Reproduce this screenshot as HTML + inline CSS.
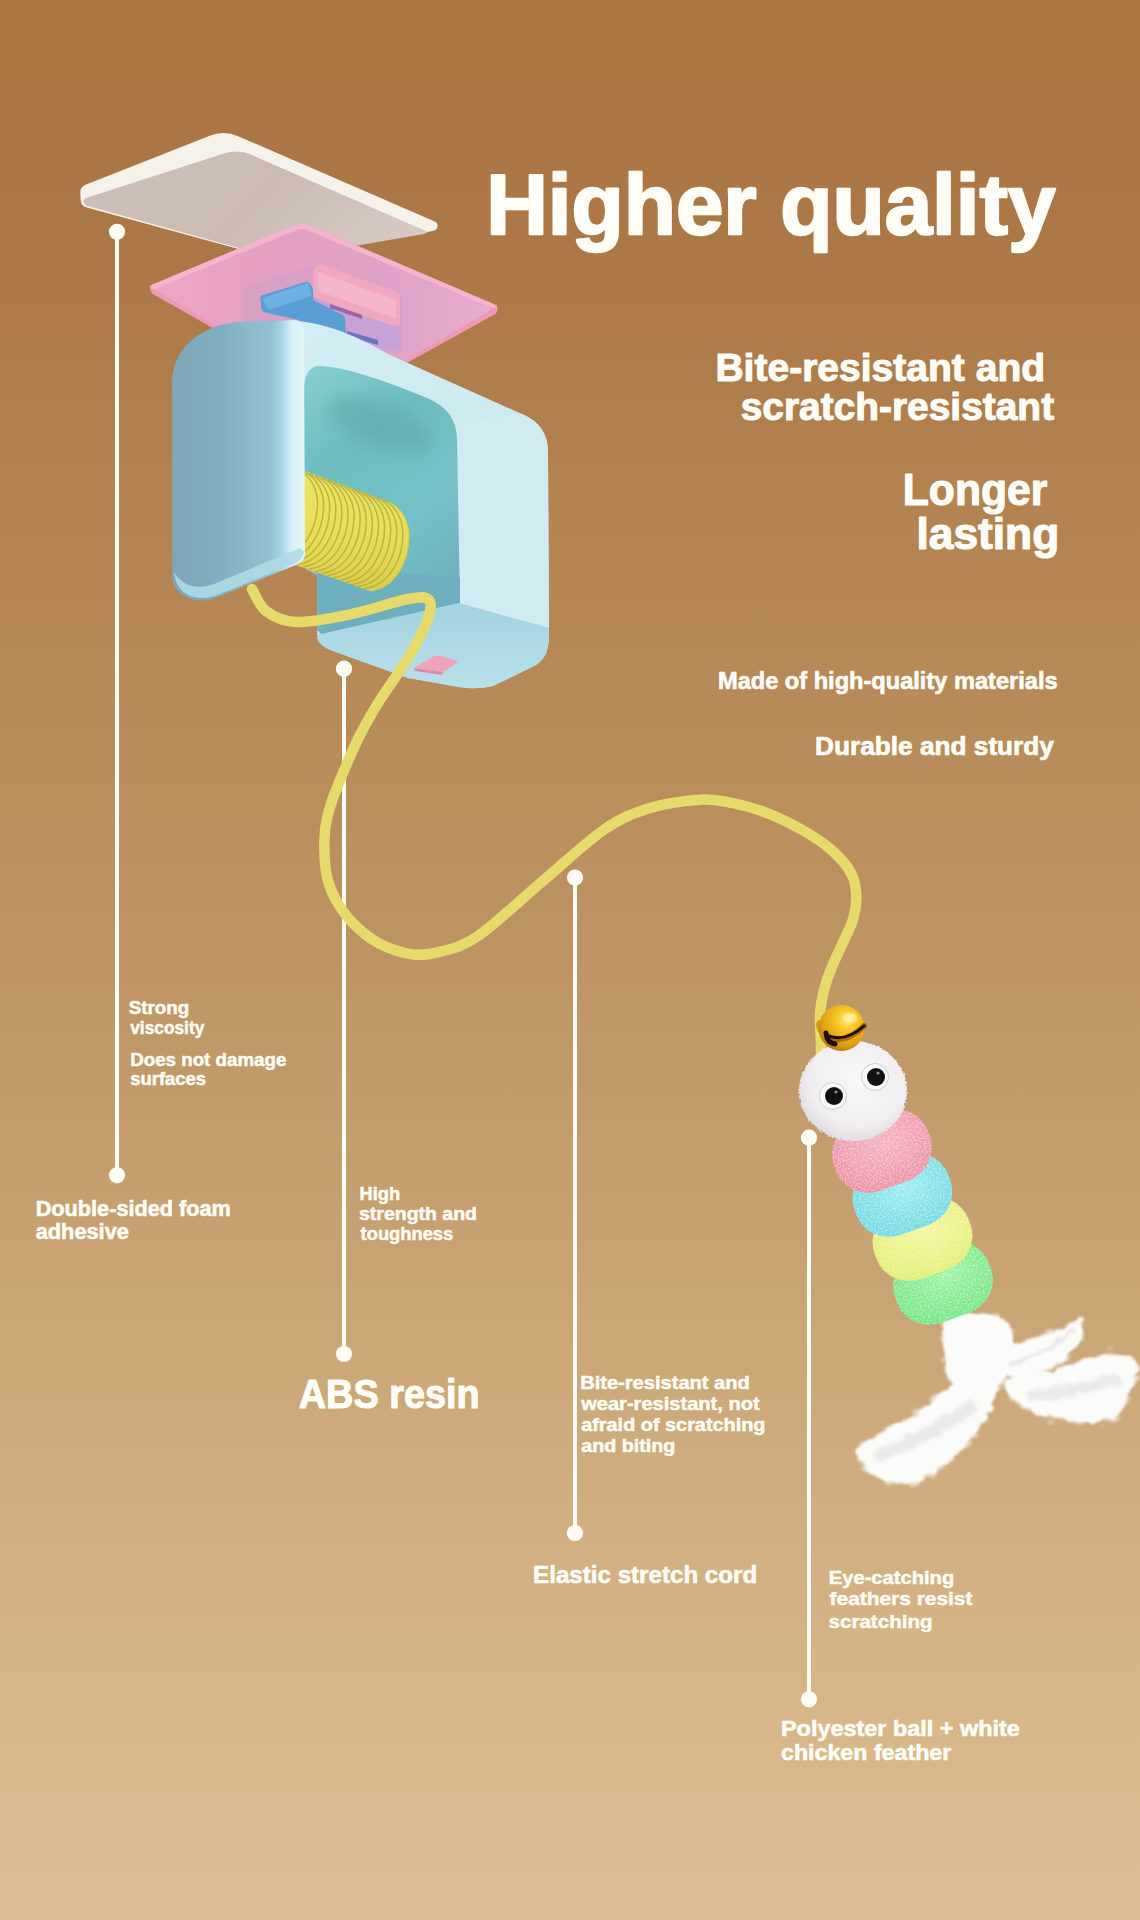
<!DOCTYPE html>
<html><head><meta charset="utf-8"><title>Higher quality</title>
<style>
html,body{margin:0;padding:0;}
body{width:1140px;height:1920px;overflow:hidden;position:relative;
background:linear-gradient(180deg,#AB7541 0px,#AC7846 270px,#B2824F 480px,#BE9464 960px,#CEAB7C 1440px,#D7B688 1710px,#DBBD93 1920px);}
svg{position:absolute;left:0;top:0;}
</style></head><body>
<svg width="1140" height="1920" viewBox="0 0 1140 1920">

<g fill="#FFFDF6" stroke="none">
<rect x="115" y="232" width="4" height="943"/><circle cx="117" cy="231.8" r="8.1"/><circle cx="117" cy="1175.3" r="8.1"/>
<rect x="342" y="669" width="4" height="685"/><circle cx="344" cy="668.7" r="8.1"/><circle cx="344" cy="1354" r="8.1"/>
<rect x="573" y="878" width="4" height="655"/><circle cx="575" cy="877.6" r="8.1"/><circle cx="575" cy="1533" r="8.1"/>
<rect x="807" y="1138" width="4" height="561"/><circle cx="809" cy="1137.7" r="8.1"/><circle cx="809" cy="1699.3" r="8.1"/>
</g>
<defs>
<linearGradient id="padFace" x1="0" y1="0" x2="1" y2="0.3">
 <stop offset="0" stop-color="#CEC0B9"/><stop offset="0.6" stop-color="#CBBBB3"/><stop offset="1" stop-color="#D5C8C1"/></linearGradient>
<linearGradient id="pinkFace" gradientUnits="userSpaceOnUse" x1="150" y1="0" x2="497" y2="0">
 <stop offset="0" stop-color="#EEA8C6"/><stop offset="0.3" stop-color="#E49FC2"/><stop offset="0.7" stop-color="#E0A2C8"/><stop offset="1" stop-color="#E6ACD0"/></linearGradient>
<linearGradient id="armFace" gradientUnits="userSpaceOnUse" x1="172" y1="0" x2="305" y2="0">
 <stop offset="0" stop-color="#7EA6B8"/><stop offset="0.35" stop-color="#80AEC0"/><stop offset="0.75" stop-color="#94C2D2"/><stop offset="0.82" stop-color="#A4D4E2"/><stop offset="0.9" stop-color="#D8F0F7"/><stop offset="1" stop-color="#E4F6FA"/></linearGradient>
<linearGradient id="boxBase" x1="0" y1="0" x2="0.3" y2="1">
 <stop offset="0" stop-color="#D4EEF4"/><stop offset="0.6" stop-color="#CBE9F0"/><stop offset="1" stop-color="#B6DDE8"/></linearGradient>
<linearGradient id="bottomFace" x1="0" y1="0" x2="0" y2="1">
 <stop offset="0" stop-color="#A2D3E0"/><stop offset="1" stop-color="#B9E0EA"/></linearGradient>
<linearGradient id="inner" x1="0" y1="0" x2="0.4" y2="1">
 <stop offset="0" stop-color="#89CFCF"/><stop offset="0.35" stop-color="#6DBDBE"/><stop offset="0.7" stop-color="#74C2C8"/><stop offset="1" stop-color="#6FB3BE"/></linearGradient>
<linearGradient id="spring" x1="0" y1="0" x2="0" y2="1">
 <stop offset="0" stop-color="#EAE366"/><stop offset="0.5" stop-color="#E8E05A"/><stop offset="1" stop-color="#D9CE4A"/></linearGradient>
<radialGradient id="bell" cx="0.62" cy="0.32" r="0.72">
 <stop offset="0" stop-color="#FFE880"/><stop offset="0.3" stop-color="#F8C828"/><stop offset="0.75" stop-color="#E0A010"/><stop offset="1" stop-color="#B87808"/></radialGradient>
<radialGradient id="head" cx="0.55" cy="0.4" r="0.65">
 <stop offset="0" stop-color="#F8F7F9"/><stop offset="0.7" stop-color="#F0EEF1"/><stop offset="1" stop-color="#DCD7DC"/></radialGradient>
<radialGradient id="segP" cx="0.55" cy="0.4" r="0.65"><stop offset="0" stop-color="#F5B2BF"/><stop offset="1" stop-color="#EC92A4"/></radialGradient>
<radialGradient id="segB" cx="0.55" cy="0.4" r="0.65"><stop offset="0" stop-color="#9CEDF0"/><stop offset="1" stop-color="#72D8E2"/></radialGradient>
<radialGradient id="segY" cx="0.55" cy="0.4" r="0.65"><stop offset="0" stop-color="#F2F89C"/><stop offset="1" stop-color="#E2EE70"/></radialGradient>
<radialGradient id="segG" cx="0.55" cy="0.4" r="0.65"><stop offset="0" stop-color="#9EF4A4"/><stop offset="1" stop-color="#74E482"/></radialGradient>
<filter id="blur2" x="-20%" y="-20%" width="140%" height="140%"><feGaussianBlur stdDeviation="1.6"/></filter>
<filter id="blur6" x="-50%" y="-50%" width="200%" height="200%"><feGaussianBlur stdDeviation="8"/></filter>
<filter id="ragged" x="-10%" y="-10%" width="120%" height="120%">
 <feTurbulence type="fractalNoise" baseFrequency="0.09" numOctaves="2" seed="3" result="n"/>
 <feDisplacementMap in="SourceGraphic" in2="n" scale="9" xChannelSelector="R" yChannelSelector="G" result="d"/>
 <feGaussianBlur in="d" stdDeviation="0.9"/>
</filter>
<filter id="speckle" x="0" y="0" width="100%" height="100%">
 <feTurbulence type="fractalNoise" baseFrequency="0.6" numOctaves="1" seed="7" result="n"/>
 <feColorMatrix in="n" type="matrix" values="0 0 0 0 1  0 0 0 0 1  0 0 0 0 1  0 0 0 -2.2 1.3" result="w"/>
 <feComposite in="w" in2="SourceGraphic" operator="in"/>
</filter>
<filter id="fuzzy" x="-10%" y="-10%" width="120%" height="120%">
 <feTurbulence type="fractalNoise" baseFrequency="0.5" numOctaves="1" seed="11" result="n"/>
 <feDisplacementMap in="SourceGraphic" in2="n" scale="3.5" xChannelSelector="R" yChannelSelector="G"/>
</filter>
<filter id="wispy" x="-15%" y="-15%" width="130%" height="130%">
 <feTurbulence type="fractalNoise" baseFrequency="0.05 0.12" numOctaves="3" seed="5" result="n"/>
 <feDisplacementMap in="SourceGraphic" in2="n" scale="22" xChannelSelector="R" yChannelSelector="G" result="d"/>
 <feGaussianBlur in="d" stdDeviation="1.5"/>
</filter>
<filter id="blur1" x="-20%" y="-20%" width="140%" height="140%"><feGaussianBlur stdDeviation="0.8"/></filter>
</defs>
<path d="M80.3,193.0 Q80.0,187.0 85.6,184.8 L209.1,135.9 Q224.0,130.0 238.7,136.4 L434.8,221.6 Q438.0,223.0 437.5,226.5 L437.5,226.5 Q437.0,230.0 433.5,230.7 L284.9,258.9 Q279.0,260.0 273.2,258.4 L86.8,207.6 Q81.0,206.0 80.7,200.0 Z" fill="#F5F2EC"/>
<path d="M83.5,202.0 Q83.0,199.0 85.9,198.1 L224.7,153.3 Q238.0,149.0 250.8,154.6 L424.5,230.6 Q430.0,233.0 424.1,234.0 L284.9,258.0 Q279.0,259.0 273.2,257.4 L86.9,205.8 Q84.0,205.0 83.5,202.0 Z" fill="url(#padFace)"/>
<path d="M150.0,289.5 Q149.0,286.0 152.4,284.6 L294.6,225.1 Q302.0,222.0 309.4,225.2 L494.8,304.6 Q498.0,306.0 497.5,309.5 L497.4,310.0 Q497.0,313.0 494.4,314.5 L342.6,398.5 Q340.0,400.0 337.4,398.5 L153.6,294.5 Q151.0,293.0 150.2,290.1 Z" fill="#EC9AB6"/>
<path d="M151.0,288.0 Q149.0,286.0 151.6,284.9 L294.6,225.1 Q302.0,222.0 309.4,225.2 L495.7,305.0 Q498.0,306.0 496.0,307.5 L496.0,307.5 Q494.0,309.0 491.7,308.0 L307.5,230.3 Q302.0,228.0 296.5,230.3 L155.6,288.9 Q153.0,290.0 151.0,288.0 Z" fill="#F4B4CE"/>
<path d="M157.5,291.0 Q154.0,289.0 157.7,287.5 L296.5,230.3 Q302.0,228.0 307.5,230.3 L489.3,307.4 Q493.0,309.0 489.5,311.0 L343.5,396.0 Q340.0,398.0 336.5,396.0 Z" fill="url(#pinkFace)"/>
<path d="M243,288 L313,266 L402,296 L402,352 L320,350 L244,326 Z" fill="#D9A0C6"/>
<path d="M313.0,271.0 Q313.0,268.0 315.6,266.5 L317.4,265.5 Q320.0,264.0 322.8,265.0 L397.2,292.0 Q400.0,293.0 400.0,296.0 L400.0,323.0 Q400.0,326.0 397.0,326.0 L396.0,326.0 Q393.0,326.0 390.2,325.0 L315.8,298.0 Q313.0,297.0 313.0,294.0 Z" fill="#EFA8C0"/>
<path d="M318,272 L396,300 L396,318 L318,291 Z" fill="#F4B6CA"/>
<path d="M310,297 L393,326 L400,327 L400,350 L345,352 L305,320 Z" fill="#C6A2D6"/>
<path d="M330,304 L362,315 L362,319 L330,308Z" fill="#9A64A8"/>
<path d="M347,331 L378,340 L378,345 L347,336Z" fill="#6D72C0"/>
<path d="M260.4,299.0 Q260.0,296.0 262.9,295.1 L305.1,281.9 Q308.0,281.0 309.7,283.4 L311.3,285.6 Q313.0,288.0 313.0,291.0 L313.0,297.0 Q313.0,300.0 315.7,301.3 L342.3,314.7 Q345.0,316.0 345.1,319.0 L345.9,335.0 Q346.0,338.0 343.0,338.2 L321.0,339.8 Q318.0,340.0 316.0,337.8 L302.0,322.2 Q300.0,320.0 297.1,319.4 L264.9,312.6 Q262.0,312.0 261.6,309.0 Z" fill="#5A9ED6"/>
<path d="M262.9,299.8 Q262.0,298.0 263.9,297.4 L306.1,283.6 Q308.0,283.0 308.6,284.9 L311.4,294.1 Q312.0,296.0 310.1,296.6 L269.9,309.4 Q268.0,310.0 267.1,308.2 Z" fill="#6FB0E4"/>
<path d="M284,321 C310,320 340,326 390,355 L522,414 Q548,425 548,452 L549,636 Q549,660 532,667 L493,686 Q476,690 459,687 L408,678 L333,651 Q317,645 317,632 L317,575 L300,565 L300,380 Z" fill="url(#boxBase)"/>
<path d="M457,425 L522,414 Q548,425 548,452 L549,634 L459,604 Z" fill="#D0EBF2"/>
<path d="M304,390 Q304,368 318,366 Q350,366 427,398 Q457,410 457,440 L460,603 L321,634 L317,575 L304,566 Z" fill="url(#inner)"/>
<ellipse cx="380" cy="425" rx="55" ry="22" transform="rotate(20 380 425)" fill="#5FA5A8" opacity="0.55" filter="url(#blur6)"/>
<path d="M317,566 L460,578 L460,603 L321,634 L317,630 Z" fill="#6DAEBF" opacity="0.9"/>
<path d="M321,634 L459,603 L549,628 L549,636 Q549,660 532,667 L493,686 Q476,690 459,687 L408,678 L333,651 Q317,645 317,637 Z" fill="url(#bottomFace)"/>
<path d="M417.0,668.5 Q413.0,668.0 416.5,666.0 L432.5,657.0 Q436.0,655.0 439.9,656.0 L455.1,660.0 Q459.0,661.0 455.8,663.4 L447.2,669.6 Q444.0,672.0 440.0,671.5 Z" fill="#F1A3BB"/>
<path d="M414.0,669.5 Q413.0,668.0 414.8,668.2 L442.2,671.8 Q444.0,672.0 443.0,673.5 L443.0,673.5 Q442.0,675.0 440.2,674.7 L416.8,671.3 Q415.0,671.0 414.0,669.5 Z" fill="#D98CA6"/>
<path d="M302,470 L389,502 C402,508 409,522 409,536 C409,560 396,588 370,591 L296,565 Z" fill="url(#spring)"/>
<path d="M382.9,499.8 C395.9,505.8 402.9,519.8 402.9,533.8 C402.9,557.8 389.9,585.8 363.9,588.8" fill="none" stroke="#B9AD38" stroke-width="1.5" opacity="0.85"/>
<path d="M376.8,497.6 C389.8,503.6 396.8,517.6 396.8,531.6 C396.8,555.6 383.8,583.6 357.8,586.6" fill="none" stroke="#B9AD38" stroke-width="1.5" opacity="0.85"/>
<path d="M370.7,495.4 C383.7,501.4 390.7,515.4 390.7,529.4 C390.7,553.4 377.7,581.4 351.7,584.4" fill="none" stroke="#B9AD38" stroke-width="1.5" opacity="0.85"/>
<path d="M364.6,493.2 C377.6,499.2 384.6,513.2 384.6,527.2 C384.6,551.2 371.6,579.2 345.6,582.2" fill="none" stroke="#B9AD38" stroke-width="1.5" opacity="0.85"/>
<path d="M358.5,491.0 C371.5,497.0 378.5,511.0 378.5,525.0 C378.5,549.0 365.5,577.0 339.5,580.0" fill="none" stroke="#B9AD38" stroke-width="1.5" opacity="0.85"/>
<path d="M352.4,488.8 C365.4,494.8 372.4,508.8 372.4,522.8 C372.4,546.8 359.4,574.8 333.4,577.8" fill="none" stroke="#B9AD38" stroke-width="1.5" opacity="0.85"/>
<path d="M346.3,486.6 C359.3,492.6 366.3,506.6 366.3,520.6 C366.3,544.6 353.3,572.6 327.3,575.6" fill="none" stroke="#B9AD38" stroke-width="1.5" opacity="0.85"/>
<path d="M340.2,484.4 C353.2,490.4 360.2,504.4 360.2,518.4 C360.2,542.4 347.2,570.4 321.2,573.4" fill="none" stroke="#B9AD38" stroke-width="1.5" opacity="0.85"/>
<path d="M334.1,482.2 C347.1,488.2 354.1,502.2 354.1,516.2 C354.1,540.2 341.1,568.2 315.1,571.2" fill="none" stroke="#B9AD38" stroke-width="1.5" opacity="0.85"/>
<path d="M328.0,480.0 C341.0,486.0 348.0,500.0 348.0,514.0 C348.0,538.0 335.0,566.0 309.0,569.0" fill="none" stroke="#B9AD38" stroke-width="1.5" opacity="0.85"/>
<path d="M321.9,477.8 C334.9,483.8 341.9,497.8 341.9,511.8 C341.9,535.8 328.9,563.8 302.9,566.8" fill="none" stroke="#B9AD38" stroke-width="1.5" opacity="0.85"/>
<path d="M315.8,475.6 C328.8,481.6 335.8,495.6 335.8,509.6 C335.8,533.6 322.8,561.6 296.8,564.6" fill="none" stroke="#B9AD38" stroke-width="1.5" opacity="0.85"/>
<path d="M309.7,473.5 C322.7,479.5 329.7,493.5 329.7,507.5 C329.7,531.5 316.7,559.5 290.7,562.5" fill="none" stroke="#B9AD38" stroke-width="1.5" opacity="0.85"/>
<path d="M303.6,471.3 C316.6,477.3 323.6,491.3 323.6,505.3 C323.6,529.3 310.6,557.3 284.6,560.3" fill="none" stroke="#B9AD38" stroke-width="1.5" opacity="0.85"/>
<path d="M297.5,469.1 C310.5,475.1 317.5,489.1 317.5,503.1 C317.5,527.1 304.5,555.1 278.5,558.1" fill="none" stroke="#B9AD38" stroke-width="1.5" opacity="0.85"/>
<path d="M389,502 C402,508 409,522 409,536 C409,560 396,588 370,591" fill="none" stroke="#D6CB48" stroke-width="1.2"/>
<path d="M172,384 C172,345 205,324 240,322 L296,320 Q303,322 304,332 L305,555 Q304,562 296,565 L215,598 Q200,603 188,598 Q172,590 172,575 Z" fill="url(#armFace)"/>
<path d="M174,572 Q176,590 190,596 Q202,600 215,596 L296,563 Q302,560 304,552 L300,548 L214,584 Q200,589 188,585 Q178,580 174,572 Z" fill="#AEDAE6" opacity="0.9"/>
<path d="M252.0,589.0 C254.3,592.7 258.7,605.5 266.0,611.0 C273.3,616.5 281.7,621.5 296.0,622.0 C310.3,622.5 333.3,617.8 352.0,614.0 C370.7,610.2 395.2,601.3 408.0,599.0 C420.8,596.7 425.8,596.3 429.0,600.0 C432.2,603.7 430.5,611.3 427.0,621.0 C423.5,630.7 415.8,644.8 408.0,658.0 C400.2,671.2 387.8,687.5 380.0,700.0 C372.2,712.5 366.2,723.0 361.0,733.0 C355.8,743.0 353.3,748.8 348.5,760.0 C343.7,771.2 336.2,788.7 332.3,800.0 C328.4,811.3 326.6,818.7 325.3,828.0 C324.0,837.3 324.2,847.6 324.6,856.0 C325.0,864.4 325.4,871.1 327.4,878.6 C329.4,886.1 332.2,893.5 336.5,901.0 C340.8,908.5 346.3,916.5 353.3,923.5 C360.3,930.5 368.8,938.1 378.6,943.2 C388.4,948.4 402.0,953.0 412.3,954.4 C422.6,955.8 429.4,954.7 440.4,951.6 C451.3,948.5 460.7,947.9 478.0,936.0 C495.3,924.1 522.8,897.8 544.0,880.0 C565.2,862.2 587.3,841.0 605.0,829.0 C622.7,817.0 634.2,812.9 650.0,808.0 C665.8,803.1 686.4,800.6 700.0,799.7 C713.6,798.9 721.1,800.9 731.6,802.9 C742.1,804.9 752.7,807.8 763.2,811.6 C773.7,815.4 784.7,820.5 794.7,825.8 C804.7,831.1 815.3,837.4 823.2,843.2 C831.1,849.0 837.1,854.7 842.1,860.5 C847.1,866.3 850.8,871.6 853.2,877.9 C855.6,884.2 856.3,891.5 856.3,898.4 C856.3,905.2 855.3,911.9 853.2,919.0 C851.1,926.1 846.9,933.9 843.7,941.0 C840.5,948.1 837.1,954.8 834.2,961.6 C831.3,968.5 828.4,975.5 826.3,982.1 C824.2,988.7 822.6,995.2 821.6,1001.0 C820.6,1006.8 820.1,1010.4 820.0,1017.0 C819.9,1023.6 820.6,1034.3 820.8,1040.5 C821.0,1046.7 821.0,1051.8 821.0,1054.0 " fill="none" stroke="#E6DB6A" stroke-width="10.5" stroke-linecap="round" stroke-linejoin="round"/>
<g filter="url(#wispy)" opacity="0.55">
<path d="M945.0,1318.0 C949.8,1310.0 964.5,1311.3 975.0,1312.0 C985.5,1312.7 1001.8,1315.7 1008.0,1322.0 C1014.2,1328.3 1013.3,1339.5 1012.0,1350.0 C1010.7,1360.5 1005.3,1376.7 1000.0,1385.0 C994.7,1393.3 987.5,1398.8 980.0,1400.0 C972.5,1401.2 960.7,1398.7 955.0,1392.0 C949.3,1385.3 947.7,1372.3 946.0,1360.0 C944.3,1347.7 940.2,1326.0 945.0,1318.0 Z" fill="#FFFFFF"/>
<path d="M998.0,1352.0 C1000.5,1345.7 1019.7,1343.7 1030.0,1340.0 C1040.3,1336.3 1051.3,1333.3 1060.0,1330.0 C1068.7,1326.7 1079.0,1317.5 1082.0,1320.0 C1085.0,1322.5 1083.3,1337.0 1078.0,1345.0 C1072.7,1353.0 1060.5,1362.5 1050.0,1368.0 C1039.5,1373.5 1023.7,1380.7 1015.0,1378.0 C1006.3,1375.3 995.5,1358.3 998.0,1352.0 Z" fill="#FFFFFF"/>
<path d="M1005.0,1382.0 C1009.3,1375.8 1033.7,1375.3 1050.0,1371.0 C1066.3,1366.7 1088.7,1357.7 1103.0,1356.0 C1117.3,1354.3 1131.5,1355.3 1136.0,1361.0 C1140.5,1366.7 1133.3,1380.8 1130.0,1390.0 C1126.7,1399.2 1124.8,1410.7 1116.0,1416.0 C1107.2,1421.3 1092.3,1423.3 1077.0,1422.0 C1061.7,1420.7 1036.0,1414.7 1024.0,1408.0 C1012.0,1401.3 1000.7,1388.2 1005.0,1382.0 Z" fill="#FFFFFF"/>
<path d="M990.0,1385.0 C984.3,1381.2 969.8,1377.5 958.0,1382.0 C946.2,1386.5 934.3,1402.0 919.0,1412.0 C903.7,1422.0 875.8,1434.0 866.0,1442.0 C856.2,1450.0 855.7,1453.2 860.0,1460.0 C864.3,1466.8 880.0,1480.7 892.0,1483.0 C904.0,1485.3 918.7,1481.7 932.0,1474.0 C945.3,1466.3 962.0,1448.5 972.0,1437.0 C982.0,1425.5 989.0,1413.7 992.0,1405.0 C995.0,1396.3 995.7,1388.8 990.0,1385.0 Z" fill="#FFFFFF"/>
</g>
<g filter="url(#ragged)">
<path d="M945.0,1318.0 C949.8,1310.0 964.5,1311.3 975.0,1312.0 C985.5,1312.7 1001.8,1315.7 1008.0,1322.0 C1014.2,1328.3 1013.3,1339.5 1012.0,1350.0 C1010.7,1360.5 1005.3,1376.7 1000.0,1385.0 C994.7,1393.3 987.5,1398.8 980.0,1400.0 C972.5,1401.2 960.7,1398.7 955.0,1392.0 C949.3,1385.3 947.7,1372.3 946.0,1360.0 C944.3,1347.7 940.2,1326.0 945.0,1318.0 Z" fill="#FBFBFA"/>
<path d="M998.0,1352.0 C1000.5,1345.7 1019.7,1343.7 1030.0,1340.0 C1040.3,1336.3 1051.3,1333.3 1060.0,1330.0 C1068.7,1326.7 1079.0,1317.5 1082.0,1320.0 C1085.0,1322.5 1083.3,1337.0 1078.0,1345.0 C1072.7,1353.0 1060.5,1362.5 1050.0,1368.0 C1039.5,1373.5 1023.7,1380.7 1015.0,1378.0 C1006.3,1375.3 995.5,1358.3 998.0,1352.0 Z" fill="#FBFBFA"/>
<path d="M1005.0,1382.0 C1009.3,1375.8 1033.7,1375.3 1050.0,1371.0 C1066.3,1366.7 1088.7,1357.7 1103.0,1356.0 C1117.3,1354.3 1131.5,1355.3 1136.0,1361.0 C1140.5,1366.7 1133.3,1380.8 1130.0,1390.0 C1126.7,1399.2 1124.8,1410.7 1116.0,1416.0 C1107.2,1421.3 1092.3,1423.3 1077.0,1422.0 C1061.7,1420.7 1036.0,1414.7 1024.0,1408.0 C1012.0,1401.3 1000.7,1388.2 1005.0,1382.0 Z" fill="#FBFBFA"/>
<path d="M990.0,1385.0 C984.3,1381.2 969.8,1377.5 958.0,1382.0 C946.2,1386.5 934.3,1402.0 919.0,1412.0 C903.7,1422.0 875.8,1434.0 866.0,1442.0 C856.2,1450.0 855.7,1453.2 860.0,1460.0 C864.3,1466.8 880.0,1480.7 892.0,1483.0 C904.0,1485.3 918.7,1481.7 932.0,1474.0 C945.3,1466.3 962.0,1448.5 972.0,1437.0 C982.0,1425.5 989.0,1413.7 992.0,1405.0 C995.0,1396.3 995.7,1388.8 990.0,1385.0 Z" fill="#FBFBFA"/>
<path d="M875.0,1458.0 C884.2,1453.7 913.3,1440.8 930.0,1432.0 C946.7,1423.2 967.5,1409.5 975.0,1405.0 " stroke="#D6D6D6" stroke-width="13" fill="none" opacity="0.45" filter="url(#blur2)"/>
<path d="M1030.0,1398.0 C1038.3,1396.3 1065.0,1391.3 1080.0,1388.0 C1095.0,1384.7 1113.3,1379.7 1120.0,1378.0 " stroke="#D6D6D6" stroke-width="13" fill="none" opacity="0.45" filter="url(#blur2)"/>
<path d="M1010.0,1365.0 C1015.8,1362.5 1034.2,1355.8 1045.0,1350.0 C1055.8,1344.2 1070.0,1333.3 1075.0,1330.0 " stroke="#DADADA" stroke-width="4" fill="none" opacity="0.5"/>
</g>
<g>
<rect x="893" y="1246" width="100" height="74" rx="36" ry="34" transform="rotate(-20 943 1283)" fill="url(#segG)"/>
<rect x="872.5" y="1202" width="100" height="74" rx="36" ry="34" transform="rotate(-20 922.5 1239)" fill="url(#segY)"/>
<rect x="852.4" y="1158" width="100" height="74" rx="36" ry="34" transform="rotate(-20 902.4 1195)" fill="url(#segB)"/>
<rect x="832" y="1114" width="100" height="74" rx="36" ry="34" transform="rotate(-20 882 1151)" fill="url(#segP)"/>
</g>
<g filter="url(#speckle)" opacity="0.55">
<rect x="893" y="1246" width="100" height="74" rx="36" ry="34" transform="rotate(-20 943 1283)" fill="url(#segG)"/>
<rect x="872.5" y="1202" width="100" height="74" rx="36" ry="34" transform="rotate(-20 922.5 1239)" fill="url(#segY)"/>
<rect x="852.4" y="1158" width="100" height="74" rx="36" ry="34" transform="rotate(-20 902.4 1195)" fill="url(#segB)"/>
<rect x="832" y="1114" width="100" height="74" rx="36" ry="34" transform="rotate(-20 882 1151)" fill="url(#segP)"/>
</g>
<ellipse cx="853" cy="1091" rx="54" ry="50" fill="url(#head)" filter="url(#fuzzy)"/>
<circle cx="833" cy="1096" r="13.5" fill="#FAFAFA" stroke="#CFCFCF" stroke-width="1"/>
<circle cx="834" cy="1096" r="9" fill="#111"/>
<circle cx="836" cy="1092" r="1.6" fill="#888"/>
<circle cx="875" cy="1077" r="13.5" fill="#FAFAFA" stroke="#CFCFCF" stroke-width="1"/>
<circle cx="876" cy="1077" r="9" fill="#111"/>
<circle cx="878" cy="1073" r="1.6" fill="#888"/>
<path d="M822,1022 Q816,1020 818,1028 Q820,1034 826,1032" stroke="#D89A10" stroke-width="3" fill="none"/>
<circle cx="841.5" cy="1028" r="23" fill="url(#bell)"/>
<path d="M828,1038 Q846,1044 864,1026" stroke="#8A3A08" stroke-width="6" fill="none" stroke-linecap="round" opacity="0.6"/>
<path d="M829,1036 Q846,1042 864,1026" stroke="#1E1005" stroke-width="3" fill="none" stroke-linecap="round"/>
<path d="M826,1033 Q827,1043 835,1044" stroke="#1E1005" stroke-width="5" fill="none" stroke-linecap="round"/>
<ellipse cx="850" cy="1018" rx="7" ry="5" fill="#FFF3B0" opacity="0.8" filter="url(#blur1)"/>
<g font-family="Liberation Sans, sans-serif" font-weight="bold" fill="#FFFDF8" stroke="#FFFDF8" stroke-linejoin="round">
<text x="486.2" y="234.0" font-size="85.76" stroke-width="2.4" textLength="569.3" lengthAdjust="spacingAndGlyphs">Higher quality</text>
<text x="715.4" y="380.8" font-size="38.69" stroke-width="1.08" textLength="329.7" lengthAdjust="spacingAndGlyphs">Bite-resistant and</text>
<text x="740.7" y="420.1" font-size="38.69" stroke-width="1.08" textLength="313.4" lengthAdjust="spacingAndGlyphs">scratch-resistant</text>
<text x="902.8" y="505.0" font-size="44.05" stroke-width="1.23" textLength="144.6" lengthAdjust="spacingAndGlyphs">Longer</text>
<text x="916.5" y="548.5" font-size="44.05" stroke-width="1.23" textLength="142.7" lengthAdjust="spacingAndGlyphs">lasting</text>
<text x="718.0" y="688.9" font-size="23.07" stroke-width="0.65" textLength="339.6" lengthAdjust="spacingAndGlyphs">Made of high-quality materials</text>
<text x="815.1" y="754.7" font-size="25.60" stroke-width="0.72" textLength="238.8" lengthAdjust="spacingAndGlyphs">Durable and sturdy</text>
<text x="128.7" y="1013.9" font-size="18.01" stroke-width="0.5" textLength="60.5" lengthAdjust="spacingAndGlyphs">Strong</text>
<text x="130.2" y="1033.6" font-size="18.01" stroke-width="0.5" textLength="74.1" lengthAdjust="spacingAndGlyphs">viscosity</text>
<text x="130.2" y="1065.8" font-size="18.01" stroke-width="0.5" textLength="156.2" lengthAdjust="spacingAndGlyphs">Does not damage</text>
<text x="130.2" y="1085.3" font-size="18.01" stroke-width="0.5" textLength="75.9" lengthAdjust="spacingAndGlyphs">surfaces</text>
<text x="35.7" y="1215.8" font-size="21.43" stroke-width="0.6" textLength="195.2" lengthAdjust="spacingAndGlyphs">Double-sided foam</text>
<text x="35.7" y="1238.8" font-size="21.43" stroke-width="0.6" textLength="93.2" lengthAdjust="spacingAndGlyphs">adhesive</text>
<text x="359.6" y="1199.6" font-size="17.86" stroke-width="0.5" textLength="40.5" lengthAdjust="spacingAndGlyphs">High</text>
<text x="359.0" y="1219.5" font-size="17.86" stroke-width="0.5" textLength="118.0" lengthAdjust="spacingAndGlyphs">strength and</text>
<text x="360.6" y="1239.6" font-size="17.86" stroke-width="0.5" textLength="92.6" lengthAdjust="spacingAndGlyphs">toughness</text>
<text x="298.7" y="1407.7" font-size="40.92" stroke-width="1.15" textLength="181.0" lengthAdjust="spacingAndGlyphs">ABS resin</text>
<text x="580.2" y="1388.6" font-size="17.71" stroke-width="0.5" textLength="169.6" lengthAdjust="spacingAndGlyphs">Bite-resistant and</text>
<text x="581.2" y="1409.8" font-size="17.71" stroke-width="0.5" textLength="178.4" lengthAdjust="spacingAndGlyphs">wear-resistant, not</text>
<text x="581.2" y="1430.7" font-size="17.71" stroke-width="0.5" textLength="184.3" lengthAdjust="spacingAndGlyphs">afraid of scratching</text>
<text x="581.2" y="1451.6" font-size="17.71" stroke-width="0.5" textLength="94.1" lengthAdjust="spacingAndGlyphs">and biting</text>
<text x="533.1" y="1582.6" font-size="23.66" stroke-width="0.66" textLength="224.1" lengthAdjust="spacingAndGlyphs">Elastic stretch cord</text>
<text x="828.8" y="1583.6" font-size="19.05" stroke-width="0.53" textLength="125.4" lengthAdjust="spacingAndGlyphs">Eye-catching</text>
<text x="829.6" y="1605.4" font-size="19.05" stroke-width="0.53" textLength="142.8" lengthAdjust="spacingAndGlyphs">feathers resist</text>
<text x="828.5" y="1627.5" font-size="19.05" stroke-width="0.53" textLength="104.1" lengthAdjust="spacingAndGlyphs">scratching</text>
<text x="781.0" y="1735.6" font-size="21.87" stroke-width="0.61" textLength="238.9" lengthAdjust="spacingAndGlyphs">Polyester ball + white</text>
<text x="781.0" y="1759.6" font-size="21.87" stroke-width="0.61" textLength="170.3" lengthAdjust="spacingAndGlyphs">chicken feather</text>
</g>
</svg>
</body></html>
